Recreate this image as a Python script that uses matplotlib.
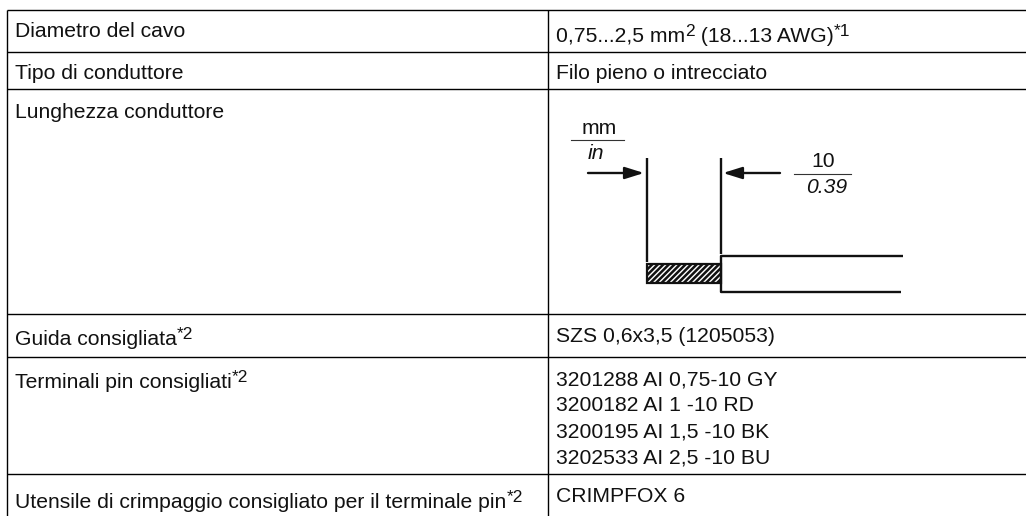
import matplotlib
matplotlib.use('Agg')
import matplotlib.pyplot as plt
from matplotlib.patches import Rectangle

plt.rcParams['font.family'] = ['Liberation Sans', 'DejaVu Sans']
plt.rcParams['hatch.linewidth'] = 1.8

left_labels = ['Diametro del cavo', 'Tipo di conduttore', 'Lunghezza conduttore',
               'Guida consigliata', 'Terminali pin consigliati',
               'Utensile di crimpaggio consigliato per il terminale pin']
left_baselines = [37, 79, 118, 345, 388, 508]
left_sup = ['', '', '', '*2', '*2', '*2']
right_labels = ['Filo pieno o intrecciato', 'SZS 0,6x3,5 (1205053)', '3201288 AI 0,75-10 GY',
                '3200182 AI 1 -10 RD', '3200195 AI 1,5 -10 BK', '3202533 AI 2,5 -10 BU',
                'CRIMPFOX 6']
right_baselines = [79, 342, 385, 411, 437, 464, 502]

row_lines = [9.5, 52, 89, 314, 357, 474]
col_lines = [7, 548]
PAD = 8
FS = 15.2
SUP_FS = 12.5
INK = '#111111'

fig = plt.figure(figsize=(10.26, 5.16), dpi=100)
ax = fig.add_axes([0, 0, 1, 1])
ax.set_xlim(0, 1026)
ax.set_ylim(516, 0)
ax.axis('off')


def sup_text(x, y, parts):
    # write plain and raised text one after the other
    r = fig.canvas.get_renderer()
    for s, raised in parts:
        t = ax.text(x, y - (6 if raised else 0), s, fontsize=SUP_FS if raised else FS,
                    color=INK, ha='left', va='baseline')
        x = ax.transData.inverted().transform(t.get_window_extent(r))[1][0]


for y in row_lines:
    ax.plot([col_lines[0], 1026], [y, y], color='black', lw=1.0, solid_capstyle='butt')
for x in col_lines:
    ax.plot([x, x], [row_lines[0], 516], color='black', lw=1.0, solid_capstyle='butt')

for s, y, sp in zip(left_labels, left_baselines, left_sup):
    parts = [(s, False)]
    if sp:
        parts.append((sp, True))
    sup_text(col_lines[0] + PAD, y, parts)

for s, y in zip(right_labels, right_baselines):
    sup_text(col_lines[1] + PAD, y, [(s, False)])

sup_text(col_lines[1] + PAD, 42, [('0,75...2,5 mm', False), ('2', True),
                                  (' (18...13 AWG)', False), ('*1', True)])

# conductor drawing
ax.plot([647, 647], [158, 262], color=INK, lw=1.7, solid_capstyle='butt')
ax.plot([721, 721], [158, 254], color=INK, lw=1.7, solid_capstyle='butt')
ax.plot([903, 721, 721, 901], [256, 256, 292, 292], color=INK, lw=1.7, solid_capstyle='butt')
ax.add_patch(Rectangle((647, 264), 74, 19, facecolor='white', edgecolor=INK, hatch='//////', lw=1.6))

arrow = dict(arrowstyle='-|>,head_length=1.15,head_width=0.36', color=INK, lw=1.7, shrinkA=0, shrinkB=0)
ax.annotate('', xy=(644, 173), xytext=(588, 173), arrowprops=arrow)
ax.annotate('', xy=(723, 173), xytext=(780, 173), arrowprops=arrow)

ax.plot([571, 624], [140, 140], color='#333333', lw=0.8)
ax.plot([794, 851], [174, 174], color='#333333', lw=0.8)
ax.text(599, 134, 'mm', fontsize=FS, color=INK, ha='center', va='baseline')
ax.text(596, 159, 'in', fontsize=FS, color=INK, ha='center', va='baseline', style='italic')
ax.text(823, 167, '10', fontsize=FS, color=INK, ha='center', va='baseline')
ax.text(827, 193, '0.39', fontsize=FS, color=INK, ha='center', va='baseline', style='italic')

fig.savefig('out.png', dpi=100)
